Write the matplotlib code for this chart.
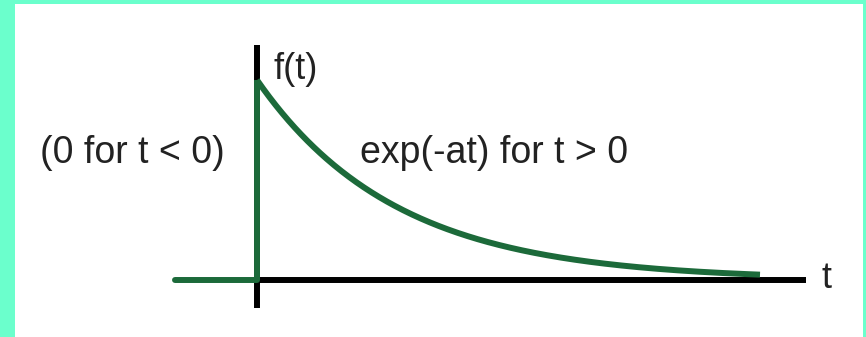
"""
Sketch of a one-sided exponential decay f(t) = exp(-at), zero for t < 0
"""

import numpy as np
import matplotlib
matplotlib.use("Agg")
import matplotlib.pyplot as plt
from matplotlib.patches import Rectangle

# Decay rate and the span of the sketch (t in plot units, f normalised to 1 at t = 0)
DECAY_RATE = 0.72
T_LEFT_END = -0.82          # where the zero segment starts on the left
T_CURVE_END = 5.03          # where the decaying curve stops
T_AXIS_END = 5.49           # tip of the horizontal axis
F_AXIS_BOTTOM = -0.14
F_AXIS_TOP = 1.175

# Labels
LABEL_NEG = "(0 for t < 0)"
LABEL_POS = "exp(-at) for t > 0"
LABEL_Y = "f(t)"
LABEL_X = "t"

BORDER = "#6bffcc"
GREEN = "#1c6a3a"
FONT = "Liberation Sans"

W, H = 866, 337
fig = plt.figure(figsize=(W / 100, H / 100), dpi=100, facecolor=BORDER)

# white card inside the mint frame
fig.add_artist(Rectangle((15 / W, 0), 848 / W, 333 / H, transform=fig.transFigure,
                         facecolor="white", edgecolor="none", zorder=-1))

ax = fig.add_axes([0, 0, 1, 1])
ax.set_facecolor("none")
ax.axis("off")
# origin sits at pixel (257, 280); 100 px per unit of t, 200 px per unit of f
ax.set_xlim(-2.57, (W - 257) / 100)
ax.set_ylim((280 - H) / 200, 280 / 200)

lw = 4.3

# axes
ax.plot([0, 0], [F_AXIS_BOTTOM, F_AXIS_TOP], color="black", lw=lw, solid_capstyle="butt", zorder=2)
ax.plot([0, T_AXIS_END], [0, 0], color="black", lw=lw, solid_capstyle="butt", zorder=2)

# the function: zero before t = 0, jump to 1, then exponential decay
t = np.linspace(0, T_CURVE_END, 400)
f = np.exp(-DECAY_RATE * t)
ax.plot([T_LEFT_END, 0], [0, 0], color=GREEN, lw=lw, solid_capstyle="round", zorder=3)
ax.plot([0, 0], [0, 1], color=GREEN, lw=lw, solid_capstyle="butt", zorder=3)
ax.plot(t, f, color=GREEN, lw=lw, solid_capstyle="butt", zorder=3)

# text labels
ax.text((273 - 257) / 100, (280 - 79) / 200, LABEL_Y, fontsize=26, family=FONT,
        ha="left", va="baseline", color="#222222")
ax.text((40 - 257) / 100, (280 - 163) / 200, LABEL_NEG, fontsize=27, family=FONT,
        ha="left", va="baseline", color="#222222")
ax.text((360 - 257) / 100, (280 - 163) / 200, LABEL_POS, fontsize=27, family=FONT,
        ha="left", va="baseline", color="#222222")
ax.text((822 - 257) / 100, (280 - 288) / 200, LABEL_X, fontsize=26, family=FONT,
        ha="left", va="baseline", color="#222222")

fig.savefig("out.png", dpi=100, facecolor=BORDER)
